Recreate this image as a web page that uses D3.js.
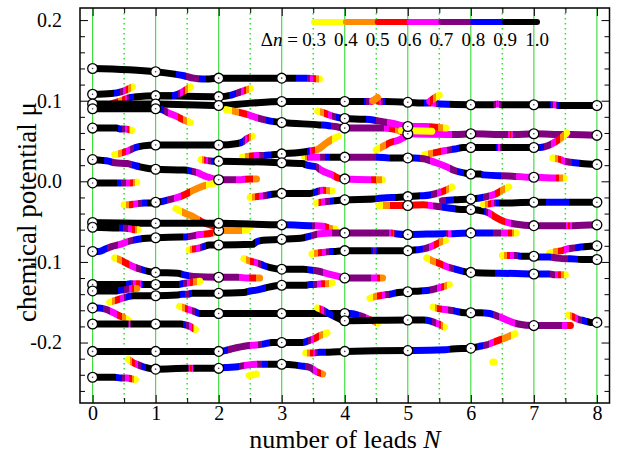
<!DOCTYPE html>
<html>
<head>
<meta charset="utf-8">
<script src="https://d3js.org/d3.v7.min.js"></script>
<style>
  body { margin: 0; background: #fff; }
  text { font-family: "Liberation Serif", "Times New Roman", serif; }
</style>
</head>
<body>
<svg id="chart" width="618" height="454"></svg>
<script>
// every level is a list of [N, mu, dn] knots
const lv01 = [[0,0.140,1],[1,0.136,1],[1.3,0.133,0.92],[1.45,0.131,0.82],[1.6,0.128,0.72],[1.75,0.127,0.85],[1.85,0.127,0.95],[2,0.128,1],[3,0.128,1],[3.22,0.128,0.9],[3.4,0.128,0.8],[3.6,0.127,0.38]];
const lv02 = [[0,0.108,1],[0.3,0.109,0.95],[0.45,0.111,0.78],[0.55,0.114,0.55],[0.63,0.117,0.33]];
const lv03 = [[0.3,0.096,0.6],[0.45,0.100,0.45],[0.6,0.104,0.85],[0.7,0.105,0.95],[1,0.106,1],[2,0.105,1],[2.2,0.107,0.88],[2.35,0.111,0.72],[2.5,0.115,0.35]];
const lv04 = [[1,0.106,1],[1.25,0.106,0.92],[1.35,0.108,0.8],[1.45,0.112,0.55],[1.55,0.117,0.33]];
const lv05 = [[0,0.096,1],[1,0.096,1],[2,0.094,1],[2.5,0.097,1],[3,0.099,1],[4,0.099,1],[4.3,0.099,0.92],[4.42,0.099,0.6],[4.48,0.101,0.45],[4.55,0.099,0.6],[4.65,0.099,0.95],[5,0.098,1],[5.3,0.097,0.88],[5.4,0.097,0.6],[5.5,0.096,0.85],[6,0.095,1],[6.35,0.095,0.92],[6.42,0.096,0.55],[6.5,0.095,0.9],[7,0.095,1],[7.25,0.095,0.9],[7.32,0.095,0.6],[7.4,0.094,0.9],[8,0.094,1]];
const lv06 = [[4.45,0.100,0.45],[4.52,0.104,0.4]];
const lv07 = [[5.35,0.099,0.6],[5.45,0.105,0.4],[5.5,0.107,0.33]];
const lv08 = [[0,0.090,1],[1,0.090,1],[1.1,0.089,0.85],[1.2,0.085,0.68],[1.35,0.080,0.6],[1.45,0.076,0.48],[1.55,0.073,0.33]];
const lv09 = [[2.12,0.089,0.33],[2.3,0.086,0.48],[2.45,0.083,0.6],[2.6,0.079,0.68],[2.75,0.076,0.8],[2.88,0.074,0.92],[3,0.073,1],[3.6,0.070,0.92],[3.75,0.069,0.82],[3.85,0.068,0.75],[4,0.066,0.75],[4.6,0.066,0.72],[4.75,0.065,0.55],[4.85,0.063,0.45],[4.95,0.060,0.62],[5,0.059,0.66],[5.65,0.058,0.66],[5.75,0.058,0.75],[6,0.059,0.75],[6.58,0.058,0.75],[6.63,0.058,0.55],[6.68,0.058,0.75],[7,0.059,0.75],[7.5,0.058,0.72],[7.54,0.058,0.65],[7.58,0.058,0.75],[8,0.057,0.75]];
const lv10 = [[3.57,0.087,0.33],[3.7,0.084,0.55],[3.8,0.081,0.7],[3.9,0.079,0.88],[4,0.078,1],[4.3,0.077,0.92],[4.45,0.076,0.82],[4.6,0.074,0.75],[4.75,0.072,0.65],[5,0.068,0.65],[5.3,0.068,0.62],[5.45,0.067,0.55],[5.6,0.066,0.33]];
const lv11 = [[4.9,0.063,0.36],[5.38,0.062,0.34]];
const lv12 = [[0,0.066,1],[0.38,0.066,0.92],[0.45,0.065,0.85],[0.52,0.065,0.7],[0.62,0.063,0.33]];
const lv13 = [[0.35,0.033,0.33],[0.45,0.035,0.48],[0.57,0.038,0.65],[0.68,0.042,0.85],[0.8,0.044,0.95],[1,0.045,1],[2,0.045,1],[2.3,0.047,0.92],[2.38,0.049,0.82],[2.45,0.053,0.62],[2.53,0.056,0.33]];
const lv14 = [[0,0.027,1],[0.15,0.026,0.92],[0.25,0.025,0.85],[0.35,0.023,0.75],[0.55,0.022,0.72],[0.65,0.020,0.82],[0.75,0.018,0.92],[1,0.015,1],[1.45,0.014,0.95],[1.55,0.013,0.85],[1.65,0.011,0.68],[1.8,0.006,0.65],[2,0.002,0.68],[2.1,0.002,0.75],[2.25,0.002,0.72],[2.35,0.002,0.65],[2.5,0.003,0.55],[2.6,0.003,0.42]];
const lv15 = [[0,-0.002,1],[0.37,-0.002,0.92],[0.47,-0.002,0.78],[0.6,-0.002,0.6],[0.7,-0.001,0.33]];
const lv16 = [[0.5,-0.029,0.33],[0.58,-0.029,0.5],[0.68,-0.028,0.65],[0.82,-0.027,0.85],[0.92,-0.027,0.95],[1,-0.026,1],[1.1,-0.025,0.88],[1.25,-0.022,0.74],[1.35,-0.020,0.64],[1.45,-0.017,0.55],[1.6,-0.011,0.47],[1.75,-0.006,0.42],[1.95,-0.002,0.33]];
const lv17 = [[1.32,-0.034,0.33],[1.45,-0.039,0.42],[1.6,-0.044,0.45],[1.75,-0.051,0.52],[1.9,-0.055,0.55],[2.05,-0.057,0.56],[2.3,-0.058,0.55],[2.45,-0.058,0.45],[2.5,-0.056,0.33]];
const lv18 = [[0,-0.087,1],[0.1,-0.087,0.88],[0.2,-0.084,0.82],[0.3,-0.081,0.75],[0.45,-0.078,0.68],[0.55,-0.075,0.68],[0.65,-0.073,0.82],[0.8,-0.071,0.92],[1,-0.070,1],[1.4,-0.069,0.95],[1.47,-0.069,0.85],[1.57,-0.068,0.75],[1.7,-0.066,0.65],[1.83,-0.065,0.55],[1.95,-0.063,0.48],[2,-0.061,0.46],[2.3,-0.061,0.45],[2.45,-0.060,0.35]];
const lv19 = [[0,-0.051,1],[1,-0.052,1],[2,-0.052,1],[3,-0.054,1],[3.05,-0.054,0.88],[3.48,-0.055,0.82],[3.55,-0.055,0.65],[3.68,-0.056,0.6],[3.75,-0.058,0.5],[3.85,-0.059,0.35]];
const lv20 = [[0,-0.057,1],[0.4,-0.058,0.95],[0.45,-0.058,0.85],[0.6,-0.059,0.65],[0.65,-0.060,0.55],[0.72,-0.060,0.35]];
const lv21 = [[2.5,-0.020,0.33],[2.6,-0.019,0.55],[2.72,-0.018,0.72],[2.85,-0.016,0.92],[3,-0.015,1],[3.45,-0.015,0.95],[3.55,-0.013,0.85],[3.65,-0.011,0.6],[3.8,-0.012,0.33]];
const lv22 = [[1.53,-0.085,0.33],[1.6,-0.084,0.55],[1.68,-0.083,0.65],[1.76,-0.081,0.85],[1.85,-0.079,0.95],[2,-0.079,1],[2.55,-0.078,0.95],[2.6,-0.075,0.85],[2.7,-0.073,0.95],[3,-0.072,1],[3.35,-0.070,0.92],[3.45,-0.068,0.82],[3.6,-0.065,0.65],[3.8,-0.064,0.7],[4,-0.064,0.75],[4.7,-0.064,0.72],[4.75,-0.064,0.5],[4.8,-0.065,0.85],[5,-0.066,0.85],[5.6,-0.065,0.85],[5.66,-0.065,0.6],[5.72,-0.065,0.85],[6,-0.064,0.88],[6.3,-0.064,0.85],[6.4,-0.064,0.75],[6.55,-0.064,0.65],[6.65,-0.064,0.5],[6.72,-0.064,0.33]];
const lv23 = [[0.35,-0.095,0.33],[0.42,-0.097,0.45],[0.52,-0.101,0.55],[0.65,-0.106,0.65],[0.8,-0.110,0.85],[0.9,-0.112,0.95],[1,-0.113,1],[1.35,-0.114,0.95],[1.45,-0.116,0.85],[1.6,-0.118,0.75],[2,-0.119,0.75],[2.3,-0.119,0.72],[2.45,-0.120,0.62],[2.6,-0.120,0.5],[2.65,-0.120,0.4]];
const lv24 = [[2.4,-0.096,0.33],[2.5,-0.099,0.5],[2.6,-0.101,0.65],[2.7,-0.104,0.85],[2.82,-0.107,0.95],[3,-0.109,1],[3.35,-0.109,0.95],[3.45,-0.110,0.85],[3.55,-0.111,0.75],[3.75,-0.115,0.65],[3.9,-0.118,0.65],[4,-0.120,0.72],[4.4,-0.120,0.72],[4.5,-0.120,0.62],[4.6,-0.120,0.42]];
const lv25 = [[0,-0.128,1],[0.52,-0.128,0.92],[0.6,-0.127,0.82],[0.68,-0.127,0.62],[0.74,-0.127,0.5],[0.8,-0.128,0.92],[1,-0.128,1],[1.35,-0.128,0.92],[1.42,-0.127,0.82],[1.52,-0.126,0.65],[1.6,-0.125,0.5],[1.7,-0.124,0.33]];
const lv26 = [[0,-0.136,1],[0.35,-0.136,0.95],[0.45,-0.135,0.85],[0.55,-0.134,0.75],[0.62,-0.133,0.6],[0.7,-0.133,0.4]];
const lv27 = [[0.27,-0.150,0.33],[0.35,-0.148,0.5],[0.47,-0.145,0.65],[0.56,-0.143,0.85],[0.65,-0.142,0.95],[1,-0.142,1],[1.35,-0.141,0.95],[1.42,-0.140,0.85],[1.5,-0.140,0.75],[1.58,-0.139,0.92],[2,-0.139,1],[2.4,-0.138,0.95],[2.5,-0.136,0.85],[2.6,-0.135,0.82],[2.75,-0.132,0.9],[3,-0.129,1],[3.38,-0.129,0.92],[3.45,-0.128,0.85],[3.53,-0.128,0.75],[3.63,-0.127,0.6],[3.72,-0.127,0.45],[3.8,-0.126,0.33]];
const lv28 = [[0,-0.157,0.9],[0.1,-0.157,0.85],[0.22,-0.159,0.75],[0.33,-0.163,0.65],[0.43,-0.167,0.55],[0.5,-0.169,0.45],[0.58,-0.173,0.33]];
const lv29 = [[0,-0.177,1],[0.55,-0.177,0.95],[0.58,-0.177,0.6],[0.62,-0.177,0.95],[1,-0.177,1],[1.4,-0.177,0.95],[1.47,-0.178,0.85],[1.52,-0.179,0.72],[1.57,-0.181,0.6],[1.63,-0.184,0.33]];
const lv30 = [[1.38,-0.155,0.33],[1.45,-0.157,0.45],[1.52,-0.159,0.62],[1.6,-0.161,0.75],[1.7,-0.164,0.92],[2,-0.164,1],[3,-0.164,1],[4,-0.164,1],[4.1,-0.164,0.88],[4.25,-0.167,0.78],[4.38,-0.171,0.65],[4.45,-0.173,0.5],[4.52,-0.176,0.33]];
const lv31 = [[3.57,-0.157,0.33],[3.63,-0.159,0.6],[3.72,-0.163,0.85],[3.85,-0.168,0.92],[4,-0.173,1],[5,-0.172,1],[5.25,-0.172,0.92],[5.35,-0.173,0.85],[5.45,-0.176,0.7],[5.52,-0.178,0.55],[5.58,-0.181,0.33]];
const lv32 = [[3.48,-0.090,0.33],[3.57,-0.089,0.5],[3.68,-0.088,0.65],[3.78,-0.087,0.85],[3.85,-0.087,0.95],[4,-0.086,1],[4.4,-0.086,0.95],[4.47,-0.086,0.7],[4.53,-0.086,0.95],[5,-0.086,1],[5.15,-0.085,0.88],[5.3,-0.083,0.75],[5.4,-0.080,0.62],[5.5,-0.076,0.5],[5.6,-0.073,0.33]];
const lv33 = [[5.3,-0.095,0.33],[5.4,-0.099,0.45],[5.5,-0.102,0.55],[5.62,-0.106,0.65],[5.75,-0.109,0.82],[5.9,-0.112,0.92],[6,-0.113,1],[6.35,-0.114,0.92],[6.45,-0.114,0.85],[7,-0.115,0.85],[7.25,-0.115,0.82],[7.33,-0.116,0.7],[7.42,-0.116,0.55],[7.5,-0.116,0.33]];
const lv34 = [[4.4,-0.145,0.33],[4.48,-0.143,0.45],[4.55,-0.142,0.55],[4.62,-0.141,0.65],[4.72,-0.140,0.85],[4.85,-0.138,0.92],[5,-0.137,1],[5.2,-0.136,0.92],[5.35,-0.135,0.8],[5.45,-0.133,0.72],[5.55,-0.131,0.55],[5.66,-0.128,0.33]];
const lv35 = [[5.4,-0.156,0.33],[5.48,-0.158,0.55],[5.6,-0.159,0.65],[5.75,-0.161,0.85],[5.9,-0.163,0.95],[6,-0.163,1],[6.15,-0.163,0.92],[6.3,-0.164,0.85],[6.45,-0.168,0.7],[6.6,-0.173,0.65],[6.75,-0.177,0.72],[7,-0.179,0.75],[7.4,-0.179,0.75],[7.5,-0.179,0.65],[7.58,-0.179,0.5]];
const lv36 = [[7.55,-0.166,0.33],[7.62,-0.168,0.55],[7.7,-0.171,0.7],[7.8,-0.173,0.85],[7.9,-0.175,0.95],[8,-0.175,1]];
const lv37 = [[3.38,-0.213,0.33],[3.5,-0.213,0.62],[3.6,-0.212,0.85],[3.75,-0.212,0.92],[4,-0.211,1],[5,-0.210,1],[5.1,-0.210,0.88],[5.6,-0.209,0.85],[5.7,-0.208,0.92],[6,-0.207,1],[6.12,-0.205,0.88],[6.25,-0.203,0.75],[6.35,-0.200,0.62],[6.45,-0.197,0.52],[6.58,-0.193,0.45],[6.7,-0.189,0.33]];
const lv38 = [[6.35,-0.224,0.33],[6.37,-0.224,0.33]];
const lv39 = [[3.55,-0.027,0.33],[3.62,-0.026,0.6],[3.72,-0.025,0.75],[3.85,-0.024,0.92],[4,-0.023,1],[4.45,-0.022,0.92],[4.55,-0.021,0.85],[4.75,-0.020,0.85],[4.82,-0.020,0.92],[5,-0.019,1],[5.2,-0.018,0.9],[5.35,-0.017,0.82],[5.5,-0.014,0.65],[5.6,-0.011,0.5],[5.7,-0.007,0.33]];
const lv40 = [[5.55,-0.024,0.75],[5.75,-0.023,0.92],[6,-0.022,1],[6.12,-0.021,0.88],[6.25,-0.019,0.75],[6.38,-0.016,0.6],[6.5,-0.011,0.45],[6.6,-0.007,0.33]];
const lv41 = [[4.55,-0.030,0.33],[4.65,-0.030,0.45],[4.8,-0.030,0.55],[5,-0.030,0.55],[5.25,-0.029,0.5],[5.35,-0.030,0.65],[5.45,-0.031,0.75],[5.65,-0.033,0.85],[5.85,-0.035,0.95],[6,-0.035,1],[6.2,-0.037,0.92],[6.28,-0.039,0.65],[6.38,-0.044,0.55],[6.5,-0.049,0.55],[6.58,-0.051,0.65],[6.7,-0.053,0.75],[7,-0.055,0.75],[7.5,-0.055,0.75],[7.55,-0.055,0.55],[7.62,-0.055,0.75],[8,-0.054,0.75]];
const lv42 = [[6.2,-0.029,0.33],[6.3,-0.028,0.55],[6.38,-0.027,0.75],[6.45,-0.027,0.92],[7,-0.026,1],[7.2,-0.026,0.9],[7.3,-0.026,0.85],[7.5,-0.026,0.85],[7.6,-0.026,0.95],[8,-0.026,1]];
const lv43 = [[5.27,0.033,0.33],[5.4,0.035,0.5],[5.58,0.038,0.65],[5.75,0.040,0.85],[5.88,0.042,0.95],[6,0.042,1],[6.4,0.042,0.95],[6.45,0.042,0.6],[6.5,0.042,0.9],[7,0.042,1],[7.1,0.042,0.85],[7.22,0.044,0.75],[7.32,0.048,0.65],[7.42,0.053,0.5],[7.52,0.060,0.33]];
const lv44 = [[4.5,0.039,0.33],[4.6,0.043,0.45],[4.72,0.048,0.55],[4.85,0.051,0.65],[4.95,0.055,0.7]];
const lv45 = [[3.36,0.031,0.33],[3.42,0.030,0.62],[3.6,0.030,0.7],[3.72,0.030,0.85],[3.8,0.030,0.95],[4,0.030,1],[4.05,0.030,0.92],[4.1,0.030,0.75],[4.45,0.030,0.72],[4.52,0.030,0.85],[4.7,0.029,0.88],[4.75,0.029,0.95],[5,0.029,1],[5.1,0.029,0.88],[5.25,0.028,0.75],[5.45,0.023,0.65],[5.62,0.018,0.65],[5.72,0.014,0.75],[5.85,0.011,0.85],[5.92,0.010,0.95],[6,0.009,1],[6.15,0.009,0.92],[6.2,0.008,0.85],[6.45,0.007,0.85],[6.5,0.007,0.75],[6.7,0.006,0.72],[6.75,0.006,0.65],[6.9,0.005,0.65],[6.95,0.005,0.75],[7,0.005,0.75],[7.05,0.005,0.65],[7.33,0.004,0.62],[7.38,0.004,0.55],[7.43,0.004,0.45],[7.48,0.004,0.35]];
const lv46 = [[2.38,0.030,0.33],[2.48,0.031,0.5],[2.6,0.032,0.65],[2.72,0.032,0.8],[2.85,0.033,0.92],[3,0.034,1],[3.4,0.037,0.95],[3.47,0.038,0.55],[3.58,0.040,0.45],[3.7,0.047,0.42],[3.8,0.052,0.4],[3.9,0.056,0.33]];
const lv47 = [[1.72,0.027,0.33],[1.8,0.026,0.6],[1.9,0.025,0.88],[2,0.025,1],[3,0.023,1],[3.33,0.022,0.95],[3.4,0.020,0.85],[3.55,0.018,0.8],[3.62,0.014,0.65],[3.8,0.008,0.62],[3.9,0.004,0.55],[4,0.003,0.62],[4.4,0.002,0.62],[4.5,0.002,0.5],[4.6,0.002,0.38]];
const lv48 = [[7.3,0.029,0.33],[7.37,0.028,0.48],[7.42,0.027,0.58],[7.48,0.025,0.68],[7.55,0.024,0.75],[7.65,0.023,0.85],[7.75,0.022,0.92],[8,0.021,1]];
const lv49 = [[7.25,-0.089,0.33],[7.35,-0.087,0.48],[7.45,-0.086,0.55],[7.52,-0.084,0.65],[7.6,-0.083,0.75],[7.7,-0.082,0.85],[7.85,-0.081,0.95],[8,-0.080,1]];
const lv50 = [[6.5,-0.092,0.33],[6.58,-0.092,0.5],[6.65,-0.092,0.65],[6.72,-0.092,0.75],[6.8,-0.093,0.92],[7,-0.093,1],[7.1,-0.094,0.88],[7.25,-0.094,0.82],[7.35,-0.095,0.75],[7.5,-0.096,0.75],[7.58,-0.096,0.85],[7.75,-0.097,0.92],[8,-0.097,1]];
const lv51 = [[0,-0.211,1],[1,-0.211,1],[2,-0.211,1],[2.1,-0.210,0.85],[2.2,-0.208,0.75],[2.45,-0.204,0.72],[2.6,-0.203,0.65],[2.7,-0.202,0.82],[2.85,-0.200,0.92],[3,-0.200,1],[3.33,-0.200,0.92],[3.42,-0.198,0.8],[3.52,-0.195,0.6],[3.62,-0.191,0.45],[3.72,-0.188,0.33]];
const lv52 = [[0.57,-0.221,0.33],[0.62,-0.224,0.5],[0.7,-0.227,0.65],[0.8,-0.230,0.85],[0.9,-0.232,0.95],[1,-0.233,1],[1.5,-0.232,0.95],[1.56,-0.232,0.5],[1.62,-0.232,0.95],[2,-0.232,1],[2.1,-0.231,0.88],[2.3,-0.230,0.82],[2.45,-0.228,0.65],[2.6,-0.227,0.68],[2.72,-0.227,0.85],[2.85,-0.227,0.95],[3,-0.227,1],[3.22,-0.228,0.95],[3.3,-0.229,0.85],[3.45,-0.231,0.75],[3.55,-0.236,0.62],[3.65,-0.239,0.45]];
const lv53 = [[0,-0.243,1],[0.35,-0.243,0.92],[0.45,-0.244,0.82],[0.55,-0.244,0.65],[0.62,-0.245,0.5],[0.68,-0.246,0.33]];
const lv54 = [[2.48,-0.241,0.33],[2.6,-0.239,0.38]];

const levels = [lv01, lv02, lv03, lv04, lv05, lv06, lv07, lv08, lv09, lv10,
  lv11, lv12, lv13, lv14, lv15, lv16, lv17, lv18, lv19, lv20,
  lv21, lv22, lv23, lv24, lv25, lv26, lv27, lv28, lv29, lv30,
  lv31, lv32, lv33, lv34, lv35, lv36, lv37, lv38, lv39, lv40,
  lv41, lv42, lv43, lv44, lv45, lv46, lv47, lv48, lv49, lv50,
  lv51, lv52, lv53, lv54];

// dn colour bands
const dnCuts = [0.4, 0.5, 0.6, 0.7, 0.8, 0.9];
const dnColors = ["#ffff00", "#ff8c00", "#ff0000", "#ff00ff", "#800080", "#0000ff", "#000000"];
const dnLegend = [0.3, 0.4, 0.5, 0.6, 0.7, 0.8, 0.9, 1.0];

// ticks
const xMajor = [0, 1, 2, 3, 4, 5, 6, 7, 8];
const xMinor = [0.5, 1.5, 2.5, 3.5, 4.5, 5.5, 6.5, 7.5];
const yMajor = [-0.2, -0.1, 0, 0.1, 0.2];
const yMinor = [-0.26, -0.24, -0.22, -0.18, -0.16, -0.14, -0.12, -0.08, -0.06, -0.04, -0.02,
  0.02, 0.04, 0.06, 0.08, 0.12, 0.14, 0.16, 0.18];

const W = 618, H = 454;
const margin = { top: 8, right: 8.5, bottom: 51, left: 80 };
const svg = d3.select("#chart");

const x = d3.scaleLinear().domain([-0.2, 8.2]).range([margin.left, W - margin.right]);
const y = d3.scaleLinear().domain([-0.275, 0.215]).range([H - margin.bottom, margin.top]);
const color = d3.scaleThreshold().domain(dnCuts).range(dnColors);
const green = "#33dd33";

const defs = svg.append("defs");

// vertical guide lines
svg.append("g").selectAll("line").data(xMajor).join("line")
  .attr("x1", d => x(d)).attr("x2", d => x(d))
  .attr("y1", margin.top).attr("y2", H - margin.bottom)
  .attr("stroke", green).attr("stroke-width", 1.1);
svg.append("g").selectAll("line").data(xMinor).join("line")
  .attr("x1", d => x(d)).attr("x2", d => x(d))
  .attr("y1", margin.top).attr("y2", H - margin.bottom)
  .attr("stroke", green).attr("stroke-width", 1.5)
  .attr("stroke-dasharray", "1.5,3.5");

// levels, coloured along N by dn
const line = d3.line().x(d => x(d[0])).y(d => y(d[1])).curve(d3.curveMonotoneX);

levels.forEach((lv, i) => {
  const x0 = x(lv[0][0]), x1 = x(lv[lv.length - 1][0]);
  const stops = [[0, color(lv[0][2])]];
  for (let k = 0; k < lv.length - 1; k++) {
    const a = lv[k], b = lv[k + 1];
    if (a[2] === b[2]) continue;
    const lo = Math.min(a[2], b[2]), hi = Math.max(a[2], b[2]);
    const down = b[2] < a[2];
    let cuts = dnCuts.filter(t => t > lo && t <= hi);
    if (down) cuts.reverse();
    cuts.forEach(t => {
      const f = (t - a[2]) / (b[2] - a[2]);
      const off = (x(a[0] + f * (b[0] - a[0])) - x0) / (x1 - x0);
      stops.push([off, color(down ? t : t - 1e-6)]);
      stops.push([off, color(down ? t - 1e-6 : t)]);
    });
  }
  stops.push([1, color(lv[lv.length - 1][2])]);

  defs.append("linearGradient")
    .attr("id", "lv" + i)
    .attr("gradientUnits", "userSpaceOnUse")
    .attr("x1", x0).attr("x2", x1).attr("y1", 0).attr("y2", 0)
    .selectAll("stop").data(stops).join("stop")
    .attr("offset", d => d[0])
    .attr("stop-color", d => d[1]);

  svg.append("path")
    .datum(lv)
    .attr("d", line)
    .attr("fill", "none")
    .attr("stroke", `url(#lv${i})`)
    .attr("stroke-width", 7)
    .attr("stroke-linecap", "round")
    .attr("stroke-linejoin", "round");
});

// open circles at whole numbers of leads
const nodes = levels.flatMap(lv => lv.filter(d => Number.isInteger(d[0])));
const nodeG = svg.append("g");
nodeG.selectAll("circle.o").data(nodes).join("circle")
  .attr("class", "o")
  .attr("cx", d => x(d[0])).attr("cy", d => y(d[1]))
  .attr("r", 4.9)
  .attr("fill", "#fff").attr("stroke", "#000").attr("stroke-width", 1.3);
nodeG.selectAll("circle.c").data(nodes).join("circle")
  .attr("class", "c")
  .attr("cx", d => x(d[0])).attr("cy", d => y(d[1]))
  .attr("r", 0.8).attr("fill", "#444");

// axes with inward ticks
const fmt = d => d.toFixed(1);
function styleAxis(g) {
  g.select(".domain").remove();
  g.attr("font-family", "Liberation Serif").attr("font-size", 20);
  g.selectAll(".tick line").attr("stroke", "#000").attr("stroke-width", 1);
}
svg.append("g").attr("transform", `translate(${margin.left},0)`)
  .call(d3.axisLeft(y).tickValues(yMajor).tickSize(-8).tickPadding(18).tickFormat(fmt)).call(styleAxis);
svg.append("g").attr("transform", `translate(${margin.left},0)`)
  .call(d3.axisLeft(y).tickValues(yMinor).tickSize(-5).tickFormat("")).call(styleAxis);
svg.append("g").attr("transform", `translate(${W - margin.right},0)`)
  .call(d3.axisRight(y).tickValues(yMajor).tickSize(-8).tickFormat("")).call(styleAxis);
svg.append("g").attr("transform", `translate(${W - margin.right},0)`)
  .call(d3.axisRight(y).tickValues(yMinor).tickSize(-5).tickFormat("")).call(styleAxis);
svg.append("g").attr("transform", `translate(0,${H - margin.bottom})`)
  .call(d3.axisBottom(x).tickValues(xMajor).tickSize(-8).tickPadding(3).tickFormat(d3.format("d"))).call(styleAxis);
svg.append("g").attr("transform", `translate(0,${H - margin.bottom})`)
  .call(d3.axisBottom(x).tickValues(xMinor).tickSize(-5).tickFormat("")).call(styleAxis);
svg.append("g").attr("transform", `translate(0,${margin.top})`)
  .call(d3.axisTop(x).tickValues(xMajor).tickSize(-8).tickFormat("")).call(styleAxis);
svg.append("g").attr("transform", `translate(0,${margin.top})`)
  .call(d3.axisTop(x).tickValues(xMinor).tickSize(-5).tickFormat("")).call(styleAxis);

svg.append("rect")
  .attr("x", margin.left).attr("y", margin.top)
  .attr("width", W - margin.left - margin.right)
  .attr("height", H - margin.top - margin.bottom)
  .attr("fill", "none").attr("stroke", "#000").attr("stroke-width", 1.5);

// axis titles
const xt = svg.append("text")
  .attr("x", 345).attr("y", 448)
  .attr("text-anchor", "middle").attr("font-size", 26);
xt.append("tspan").text("number of leads ");
xt.append("tspan").attr("font-style", "italic").text("N");

svg.append("text")
  .attr("transform", "translate(36,212) rotate(-90)")
  .attr("text-anchor", "middle").attr("font-size", 27)
  .text("chemical potential μ");

// dn legend
const xl = d3.scaleLinear().domain([0.3, 1.0]).range([314, 537]);
const legend = svg.append("g");
legend.selectAll("line").data(dnLegend.slice(0, -1)).join("line")
  .attr("x1", d => xl(d)).attr("x2", d => xl(d + 0.1))
  .attr("y1", 22).attr("y2", 22)
  .attr("stroke", d => color(d + 0.05))
  .attr("stroke-width", 6).attr("stroke-linecap", "round");
legend.selectAll("text.v").data(dnLegend).join("text")
  .attr("class", "v")
  .attr("x", d => xl(d)).attr("y", 46)
  .attr("text-anchor", "middle").attr("font-size", 19)
  .text(d => d.toFixed(1));
const lt = legend.append("text")
  .attr("x", 298).attr("y", 46)
  .attr("text-anchor", "end").attr("font-size", 19);
lt.append("tspan").text("Δ");
lt.append("tspan").attr("font-style", "italic").text("n");
lt.append("tspan").text(" =");
</script>
</body>
</html>
